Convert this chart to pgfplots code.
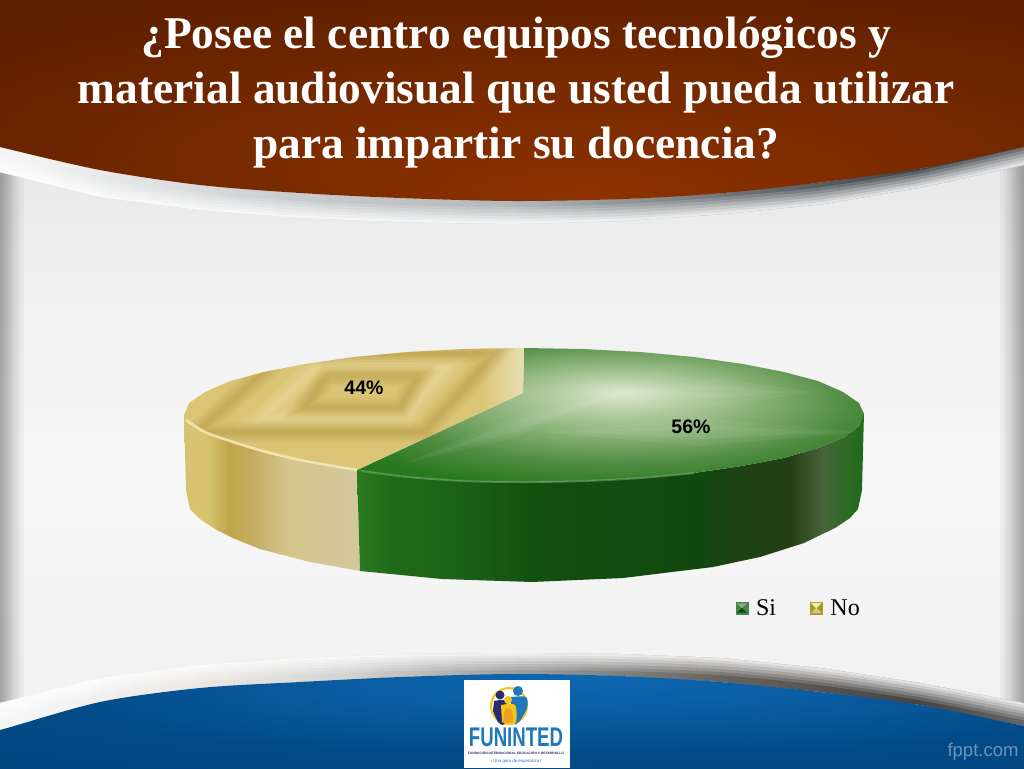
\documentclass[border=0pt]{standalone}
\usepackage{fontspec}
\setmainfont{Liberation Serif}
\newfontfamily\arialfont{Liberation Sans}
\usepackage{pgfplots}
\pgfplotsset{compat=1.18}

% bbox of a shaded path maps onto 25bp..75bp
\definecolor{h0}{HTML}{8E3200}\definecolor{h1}{HTML}{782A00}\definecolor{h2}{HTML}{5F2000}\definecolor{h3}{HTML}{551C00}
\pgfdeclareradialshading{brownglow}{\pgfpoint{0bp}{-25bp}}{color(0bp)=(h0);color(15bp)=(h1);color(30bp)=(h2);color(50bp)=(h3)}
\definecolor{f0}{HTML}{0D68B2}\definecolor{f1}{HTML}{0A5DA2}\definecolor{f2}{HTML}{024A86}\definecolor{f3}{HTML}{003F78}
\pgfdeclareradialshading{blueglow}{\pgfpoint{0bp}{25bp}}{color(0bp)=(f0);color(10bp)=(f1);color(22bp)=(f2);color(50bp)=(f3)}
\definecolor{g0}{HTML}{DFE8D2}\definecolor{g1}{HTML}{B8D0A6}\definecolor{g2}{HTML}{82AC70}
\definecolor{g3}{HTML}{4F8C42}\definecolor{g4}{HTML}{28781F}\definecolor{g5}{HTML}{1A701A}
\pgfdeclareradialshading{greentop}{\pgfpoint{1.2bp}{8.6bp}}{color(0bp)=(g0);color(6bp)=(g1);color(15bp)=(g2);color(23bp)=(g3);color(31bp)=(g4);color(50bp)=(g5)}
\definecolor{s0}{HTML}{2A7A20}\definecolor{s1}{HTML}{1F6B19}\definecolor{s2}{HTML}{1C6317}
\definecolor{s3}{HTML}{124F10}\definecolor{s4}{HTML}{124810}\definecolor{s5}{HTML}{1E4115}
\definecolor{s6}{HTML}{233F17}\definecolor{s7}{HTML}{46643A}\definecolor{s8}{HTML}{2C6A22}\definecolor{s9}{HTML}{1C6B1A}
\pgfdeclarehorizontalshading{greenside}{100bp}{color(0bp)=(s0);color(25bp)=(s0);color(28.3bp)=(s1);color(34.2bp)=(s2);color(43bp)=(s3);color(58.8bp)=(s4);color(62.8bp)=(s5);color(67.7bp)=(s6);color(70.9bp)=(s7);color(73.6bp)=(s8);color(75bp)=(s9);color(100bp)=(s9)}
\definecolor{y0}{HTML}{D6C372}\definecolor{y1}{HTML}{D8C470}\definecolor{y2}{HTML}{BFA54B}
\definecolor{y3}{HTML}{C4AE62}\definecolor{y4}{HTML}{D5C58C}\definecolor{y5}{HTML}{D3C79B}
\pgfdeclarehorizontalshading{yellowside}{100bp}{color(0bp)=(y0);color(25bp)=(y0);color(31.5bp)=(y1);color(37.8bp)=(y2);color(45bp)=(y3);color(54.5bp)=(y4);color(72.5bp)=(y5);color(100bp)=(y5)}
\definecolor{t0}{HTML}{F4F4F4}\definecolor{t1}{HTML}{C8CCCE}\definecolor{t2}{HTML}{B4B8BA}\definecolor{t3}{HTML}{6F767A}\definecolor{t4}{HTML}{3F454A}\definecolor{t5}{HTML}{5A5F63}
\pgfdeclarehorizontalshading{topband}{100bp}{color(0bp)=(t0);color(27bp)=(t0);color(40bp)=(t1);color(50bp)=(t2);color(60bp)=(t3);color(69bp)=(t4);color(75bp)=(t5);color(100bp)=(t5)}
\definecolor{b0}{HTML}{F6F6F6}\definecolor{b1}{HTML}{ECE8E4}\definecolor{b2}{HTML}{D6D4D2}\definecolor{b3}{HTML}{A0A0A0}\definecolor{b4}{HTML}{66625E}\definecolor{b5}{HTML}{474543}\definecolor{b6}{HTML}{6B6B6B}
\pgfdeclarehorizontalshading{lowband}{100bp}{color(0bp)=(b0);color(27bp)=(b0);color(35bp)=(b1);color(42bp)=(b2);color(50bp)=(b3);color(60bp)=(b4);color(69bp)=(b5);color(75bp)=(b6);color(100bp)=(b6)}
\definecolor{p0}{HTML}{E3E3E3}\definecolor{p1}{HTML}{EFEFEF}\definecolor{p2}{HTML}{F7F7F7}\definecolor{p3}{HTML}{F1F1F1}
\pgfdeclareverticalshading{panel}{100bp}{color(0bp)=(p3);color(25bp)=(p3);color(45bp)=(p2);color(62bp)=(p1);color(75bp)=(p0);color(100bp)=(p0)}
\definecolor{ybase}{HTML}{DAC577}\definecolor{ydark}{HTML}{A88C30}\definecolor{ylight}{HTML}{F4E9B4}\definecolor{yapex}{HTML}{E8DEB2}
\definecolor{fppt}{HTML}{6A94BB}
\definecolor{lblue}{HTML}{1F78BE}\definecolor{lnavy}{HTML}{2A2A6E}\definecolor{lyellow}{HTML}{F5C518}\definecolor{lorange}{HTML}{F0A020}

% soft ridge: same closed line several times, wide to narrow
\newcommand{\ridge}[2]{%
  \addplot[draw=#1,line width=22pt,opacity=.09,forget plot] coordinates {#2} --cycle;
  \addplot[draw=#1,line width=17pt,opacity=.09,forget plot] coordinates {#2} --cycle;
  \addplot[draw=#1,line width=12pt,opacity=.09,forget plot] coordinates {#2} --cycle;
  \addplot[draw=#1,line width=8pt,opacity=.10,forget plot] coordinates {#2} --cycle;
  \addplot[draw=#1,line width=4pt,opacity=.12,forget plot] coordinates {#2} --cycle;
}
% fade a band to white from one of its edges
\newcommand{\whitefade}[1]{%
  \addplot[smooth,draw=white,line width=34pt,opacity=.16,forget plot] coordinates {#1};
  \addplot[smooth,draw=white,line width=28pt,opacity=.18,forget plot] coordinates {#1};
  \addplot[smooth,draw=white,line width=22pt,opacity=.22,forget plot] coordinates {#1};
  \addplot[smooth,draw=white,line width=16pt,opacity=.26,forget plot] coordinates {#1};
  \addplot[smooth,draw=white,line width=10pt,opacity=.32,forget plot] coordinates {#1};
  \addplot[smooth,draw=white,line width=5pt,opacity=.40,forget plot] coordinates {#1};
}
% side vignette of the panel
\newcommand{\sidebar}[2]{\addplot[fill=black,draw=none,opacity=.035,forget plot] coordinates {(#1,100) (#2,100) (#2,720) (#1,720)} --cycle;}

\begin{document}
\begin{tikzpicture}
\begin{axis}[
  scale only axis, width=1024pt, height=768pt,
  xmin=0, xmax=1024, ymin=0, ymax=768, y dir=reverse,
  hide axis, no markers,
  title={¿Posee el centro equipos tecnológicos y\\material audiovisual que usted pueda utilizar\\para impartir su docencia?},
  title style={at={(0.504,1)}, anchor=north, yshift=-19pt, align=center, text=white,
    font=\fontsize{45.4}{55}\selectfont\bfseries},
  legend style={at={(axis cs:862,608)}, anchor=east, draw=none, fill=none, inner sep=0pt,
    legend columns=2, font=\fontsize{24}{28}\selectfont, legend cell align=left,
    /tikz/every even column/.append style={column sep=32pt},
    /tikz/every odd column/.append style={column sep=6pt}},
  legend image code/.code={},
]

% panel
\addplot[shade, shading=panel, draw=none, forget plot] coordinates {(0,100) (1024,100) (1024,720) (0,720)} --cycle;
\sidebar{0}{2}\sidebar{0}{4}\sidebar{0}{6}\sidebar{0}{8}\sidebar{0}{10}\sidebar{0}{12}\sidebar{0}{14}\sidebar{0}{17}\sidebar{0}{20}\sidebar{0}{24}
\sidebar{1022}{1024}\sidebar{1020}{1024}\sidebar{1018}{1024}\sidebar{1016}{1024}\sidebar{1014}{1024}\sidebar{1012}{1024}\sidebar{1010}{1024}\sidebar{1007}{1024}\sidebar{1004}{1024}\sidebar{1000}{1024}

% upper band
\begin{scope}
\clip (-20,120) -- (0,147) -- (100,170) -- (200,185) -- (300,193) -- (400,198) -- (512,201) -- (624,199) -- (724,193) -- (824,182) -- (924,168) -- (1024,147) -- (1044,140)
  -- (1044,162) -- (1024,165) -- (924,187) -- (824,204) -- (724,214) -- (624,221) -- (512,224) -- (400,222) -- (300,218) -- (200,210) -- (100,197) -- (0,172) -- (-20,165) -- cycle;
\addplot[shade, shading=topband, draw=none, forget plot] coordinates {(-20,120) (1044,120) (1044,240) (-20,240)} --cycle;
\whitefade{(-20,167) (0,172) (100,197) (200,210) (300,218) (400,222) (512,224) (624,221) (724,214) (824,204) (924,187) (1024,165) (1044,160)}
\end{scope}

% header
\addplot[smooth, shade, shading=brownglow, draw=none, forget plot] coordinates {(-20,-20) (1044,-20) (1044,141) (1024,147) (924,168) (824,182) (724,193) (624,199) (512,201) (400,198) (300,193) (200,185) (100,170) (0,147) (-20,141)} --cycle;

% lower band
\begin{scope}
\clip (-20,710) -- (0,703) -- (100,678) -- (200,665) -- (300,658) -- (400,654) -- (512,653) -- (620,654) -- (720,658) -- (820,668) -- (920,683) -- (1024,703) -- (1044,708)
  -- (1044,732) -- (1024,726) -- (920,705) -- (820,692) -- (720,682) -- (620,676) -- (512,674) -- (400,677) -- (300,682) -- (200,688) -- (100,702) -- (0,730) -- (-20,737) -- cycle;
\addplot[shade, shading=lowband, draw=none, forget plot] coordinates {(-20,640) (1044,640) (1044,750) (-20,750)} --cycle;
\whitefade{(-20,710) (0,703) (100,678) (200,665) (300,658) (400,654) (512,653) (620,654) (720,658) (820,668) (920,683) (1024,703) (1044,708)}
\end{scope}

% footer
\addplot[smooth, shade, shading=blueglow, draw=none, forget plot] coordinates {(-20,733) (0,730) (100,702) (200,688) (300,682) (400,677) (512,674) (620,676) (720,682) (820,692) (920,705) (1024,726) (1044,732) (1044,790) (-20,790)} --cycle;

% pie sides
\addplot[shade, shading=yellowside, draw=none, forget plot] coordinates {(184,415) (186,490) (190,509) (200,519) (215,529) (235,539) (260,549) (310,562) (360,571) (357,470) (305,461) (263,451) (230,441) (205,432) (189,424)} --cycle;
\addplot[shade, shading=greenside, draw=none, forget plot] coordinates {(357,470) (360,571) (442,579) (532,582) (623,578) (713,567) (760,557) (804,543) (835,528) (850,518) (858,509) (862,490) (864,412) (859,426) (843,438) (818,448) (784,458) (742,466) (694,473) (640,478) (583,481) (524,482) (465,481) (408,477)} --cycle;

% pie tops, 56 and 44
\addplot[shade, shading=greentop, draw=none, forget plot] coordinates {(523,393) (524,348) (583,349) (640,352) (694,357) (743,364) (784,372) (818,381) (843,392) (859,403) (864,414) (859,426) (843,438) (818,448) (784,458) (742,466) (694,473) (640,478) (583,481) (524,482) (465,481) (408,477) (357,470)} --cycle;
% light streaks on the green
\addplot[fill=white, draw=none, opacity=.05, forget plot] coordinates {(540,432) (700,418) (862,432) (700,446)} --cycle;
\addplot[fill=white, draw=none, opacity=.06, forget plot] coordinates {(570,432) (700,425) (840,432) (700,439)} --cycle;
\addplot[fill=white, draw=none, opacity=.05, forget plot] coordinates {(623,392) (518,415) (405,463) (510,439)} --cycle;
\addplot[fill=white, draw=none, opacity=.06, forget plot] coordinates {(623,392) (516,421) (430,455) (512,433)} --cycle;
\addplot[fill=white, draw=none, opacity=.05, forget plot] coordinates {(623,392) (716,378) (815,392) (716,406)} --cycle;
\addplot[fill=white, draw=none, opacity=.06, forget plot] coordinates {(623,392) (716,385) (790,392) (716,399)} --cycle;

\addplot[fill=ybase, draw=none, forget plot] coordinates {(523,393) (357,470) (305,461) (263,451) (230,441) (205,432) (189,424) (184,415) (189,403) (205,392) (230,381) (264,372) (305,364) (354,357) (408,352) (465,349) (524,348)} --cycle;
\begin{scope}
\clip (523,393) -- (357,470) -- (305,461) -- (263,451) -- (230,441) -- (205,432) -- (189,424) -- (184,415) -- (189,403) -- (205,392) -- (230,381) -- (264,372) -- (305,364) -- (354,357) -- (408,352) -- (465,349) -- (524,348) -- cycle;
\addplot[shade, left color=ybase, right color=yapex, draw=none, forget plot] coordinates {(480,348) (524,348) (524,393) (480,415)} --cycle;
\ridge{ydark}{(283,355) (496,353) (424,432) (197,432)}
\ridge{ylight}{(315,368) (446,368) (405,417) (263,417)}
\ridge{ydark}{(328,375) (419,375) (401,408) (304,408)}
\end{scope}

% rim highlights
\addplot[smooth, draw=ylight, line width=2.5pt, opacity=.9, forget plot] coordinates {(186,420) (205,432) (230,441) (263,451) (305,461) (357,470)};
\addplot[smooth, draw=s0!70!white, line width=2pt, opacity=.65, forget plot] coordinates {(362,471) (408,477) (465,481) (524,482) (583,481) (640,478) (694,473)};

% percent labels
\addplot[draw=none, point meta=explicit symbolic, nodes near coords, forget plot,
  nodes near coords style={anchor=center, font=\arialfont\fontsize{19.5}{20}\selectfont\bfseries, text=black}]
  coordinates {(364,388)[44\%] (691,427)[56\%]};

% legend
\addlegendimage{legend image code/.code={
  \fill[green!30!black!70!white] (0pt,-6pt) rectangle (12pt,6pt);
  \fill[green!35!black] (1.5pt,-4.5pt) -- (10.5pt,-4.5pt) -- (6pt,0pt) -- cycle;
  \fill[green!25!black!45!white] (1.5pt,4.5pt) -- (10.5pt,4.5pt) -- (6pt,0pt) -- cycle;
}}
\addlegendentry{Si}
\addlegendimage{legend image code/.code={
  \fill[olive!70!brown!90!white] (0pt,-6pt) rectangle (12pt,6pt);
  \fill[ybase] (1pt,-5pt) -- (11pt,-5pt) -- (6pt,0pt) -- cycle;
  \fill[ylight] (1pt,5pt) -- (11pt,5pt) -- (6pt,0pt) -- cycle;
}}
\addlegendentry{No}

% logo
\addplot[fill=white, draw=none, forget plot] coordinates {(464,680) (570,680) (570,768) (464,768)} --cycle;
\draw[lyellow, line width=2pt] (509,706) circle[radius=18];
\addplot[smooth, fill=lnavy, draw=none, forget plot] coordinates {(494,701) (506,701) (506,720) (503,725) (498,722) (493,711)} --cycle;
\fill[lnavy] (500,695) circle[radius=4.5];
\addplot[smooth, fill=lblue, draw=none, forget plot] coordinates {(511,697) (526,697) (527,708) (519,722) (513,724) (510,712)} --cycle;
\fill[lblue] (518,691) circle[radius=5];
\addplot[smooth, fill=lyellow, draw=none, forget plot] coordinates {(501,705) (515,705) (516,722) (509,725) (502,722)} --cycle;
\addplot[smooth, fill=lorange, draw=none, forget plot] coordinates {(505,709) (511,709) (513,722) (503,722)} --cycle;
\fill[lyellow] (508,700) circle[radius=4];
\node[anchor=base, inner sep=0pt, xscale=.69, text=lblue, font=\arialfont\fontsize{27}{27}\selectfont\bfseries] at (516,746.5) {FUNINTED};
\node[anchor=base, inner sep=0pt, text=lnavy, font=\arialfont\fontsize{3.3}{4}\selectfont\bfseries] at (516,754.5) {FUNDACIÓN INTERNACIONAL EDUCACIÓN Y DESARROLLO};
\node[anchor=base, inner sep=0pt, text=lblue, font=\arialfont\fontsize{4.4}{5}\selectfont] at (516,762) {¡ Una gota de esperanza !};

\node[text=fppt, font=\arialfont\fontsize{18.5}{20}\selectfont] at (983,752) {fppt.com};
\end{axis}
\end{tikzpicture}
\end{document}
